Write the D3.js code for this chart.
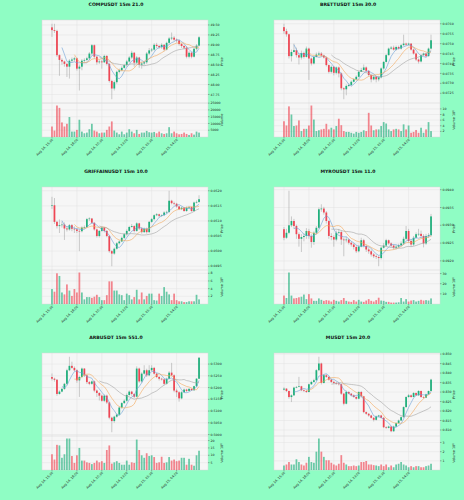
<!DOCTYPE html>
<html>
<head>
<meta charset="utf-8">
<script src="https://cdn.jsdelivr.net/npm/d3@7"></script>
<style>
  body { margin: 0; background: #8ffdc4; }
  svg { display: block; font-family: "DejaVu Sans", sans-serif; }
</style>
</head>
<body>
<svg class="grid-of-charts"></svg>
<script>
const width = 464, height = 500

// x tick labels, one every 10 candles (15m bars)
const tickIdx = [0, 10, 20, 30, 40, 50]
const tickLabels = ["Aug 14, 15:30", "Aug 14, 18:00", "Aug 14, 20:30", "Aug 14, 23:00", "Aug 15, 01:30", "Aug 15, 04:00"]
const mavs = [5, 10, 20]
const mavColors = ["#6a9fd6", "#f3a75a", "#a3a3a3"]

// COMPUSDT
const compOpen0 = 49.44
const compClose = [49.37,49.35,48.74,48.62,48.58,48.52,48.45,48.60,48.63,48.66,48.40,48.45,48.60,48.62,48.66,48.78,48.99,48.70,48.56,48.58,48.56,48.72,48.52,48.09,47.90,48.06,48.32,48.36,48.42,48.49,48.58,48.68,48.80,48.55,48.68,48.50,48.53,48.56,48.78,48.86,48.88,49.00,48.97,48.94,49.00,48.88,49.05,49.16,49.18,49.13,49.11,49.02,48.97,48.93,48.70,48.80,48.70,48.90,48.98,49.19]
const compHigh = [49.53,49.53,49.38,48.76,48.66,48.60,48.55,48.64,48.68,48.70,48.68,48.50,48.64,48.66,48.70,48.82,49.02,49.01,48.72,48.63,48.62,48.75,48.74,48.55,48.12,48.10,48.35,48.40,48.46,48.52,48.62,48.72,48.85,48.82,48.72,48.70,48.58,48.60,48.82,48.92,48.92,49.04,49.05,49.00,49.04,49.02,49.08,49.20,49.31,49.22,49.16,49.14,49.05,49.00,48.96,48.84,48.82,48.93,49.02,49.22]
const compLow = [49.20,49.30,48.70,48.22,48.50,48.45,48.19,48.15,48.55,48.58,48.35,47.85,48.36,48.55,48.58,48.62,48.74,48.65,48.50,48.52,48.40,48.54,48.48,48.05,47.63,47.85,48.02,48.28,48.33,48.40,48.45,48.55,48.64,48.45,48.52,48.42,48.40,48.48,48.52,48.74,48.82,48.85,48.92,48.90,48.90,48.84,48.86,49.02,49.12,49.10,49.06,48.98,48.92,48.88,48.66,48.66,48.66,48.68,48.86,48.96]
const compVolume = [7750,4750,23250,21500,10750,7750,9750,14750,4000,4000,5250,12750,4000,2750,3250,5750,9750,4750,4000,2750,3250,3250,5250,7750,11500,4750,3250,2000,4000,2000,3250,5750,4000,2750,5250,2250,3250,3250,4500,3500,3250,3750,2750,4000,2750,2250,2750,7250,2750,4000,2750,2000,2250,3250,2250,1500,2750,1750,4000,3250]
const compPriceTicks = [47.75, 48.00, 48.25, 48.50, 48.75, 49.00, 49.25, 49.50]
const compVolTicks = [5000, 10000, 15000, 20000, 25000]

// BRETTUSDT
const brettOpen0 = 0.07583
const brettClose = [0.07563,0.07547,0.07437,0.07458,0.07467,0.07442,0.07430,0.07453,0.07433,0.07475,0.07425,0.07400,0.07433,0.07445,0.07450,0.07440,0.07430,0.07392,0.07358,0.07383,0.07353,0.07380,0.07350,0.07275,0.07270,0.07287,0.07292,0.07308,0.07320,0.07333,0.07358,0.07367,0.07380,0.07363,0.07342,0.07320,0.07333,0.07320,0.07330,0.07375,0.07408,0.07442,0.07475,0.07480,0.07470,0.07483,0.07475,0.07492,0.07500,0.07495,0.07500,0.07470,0.07450,0.07420,0.07410,0.07442,0.07450,0.07437,0.07475,0.07517]
const brettHigh = [0.07600,0.07575,0.07550,0.07470,0.07500,0.07480,0.07450,0.07465,0.07460,0.07485,0.07480,0.07430,0.07440,0.07455,0.07460,0.07458,0.07445,0.07435,0.07395,0.07390,0.07388,0.07385,0.07385,0.07355,0.07280,0.07295,0.07300,0.07315,0.07325,0.07340,0.07362,0.07378,0.07395,0.07385,0.07366,0.07345,0.07340,0.07338,0.07338,0.07380,0.07412,0.07448,0.07480,0.07488,0.07490,0.07490,0.07490,0.07498,0.07545,0.07505,0.07505,0.07502,0.07475,0.07455,0.07425,0.07448,0.07455,0.07452,0.07480,0.07545]
const brettLow = [0.07550,0.07535,0.07425,0.07410,0.07455,0.07430,0.07395,0.07420,0.07425,0.07430,0.07317,0.07390,0.07395,0.07430,0.07440,0.07435,0.07425,0.07385,0.07350,0.07350,0.07340,0.07345,0.07330,0.07265,0.07220,0.07240,0.07282,0.07285,0.07305,0.07318,0.07330,0.07360,0.07365,0.07355,0.07335,0.07305,0.07315,0.07305,0.07310,0.07325,0.07370,0.07405,0.07440,0.07470,0.07465,0.07465,0.07470,0.07470,0.07490,0.07490,0.07492,0.07465,0.07445,0.07412,0.07400,0.07405,0.07438,0.07430,0.07435,0.07470]
const brettVolume = [5.6,4.1,10.9,8.0,3.9,4.1,5.9,2.1,2.9,2.9,4.1,11.2,6.2,2.1,2.4,2.7,2.9,4.7,2.7,3.3,2.7,3.9,6.5,4.2,2.1,1.8,1.8,1.5,1.2,1.8,1.5,1.8,2.4,2.1,8.6,4.1,2.4,2.7,2.7,3.9,5.3,4.8,2.7,2.1,2.7,2.9,2.7,2.1,4.5,2.7,4.1,1.5,1.8,2.5,1.5,3.3,1.5,2.7,5.3,2.1]
const brettPriceTicks = [0.0725, 0.0730, 0.0735, 0.0740, 0.0745, 0.0750, 0.0755, 0.0760]
const brettVolTicks = [2, 4, 6, 8, 10]

// GRIFFAINUSDT
const griffOpen0 = 0.05150
const griffClose = [0.05152,0.05097,0.05083,0.05086,0.05088,0.05075,0.05072,0.05086,0.05074,0.05072,0.05067,0.05066,0.05078,0.05080,0.05106,0.05108,0.05094,0.05072,0.05050,0.05067,0.05078,0.05067,0.05050,0.05000,0.04992,0.05008,0.05026,0.05032,0.05044,0.05056,0.05067,0.05080,0.05083,0.05067,0.05092,0.05075,0.05063,0.05074,0.05063,0.05097,0.05106,0.05119,0.05122,0.05117,0.05119,0.05128,0.05130,0.05167,0.05159,0.05157,0.05148,0.05139,0.05144,0.05133,0.05144,0.05146,0.05133,0.05161,0.05163,0.05172]
const griffHigh = [0.05180,0.05176,0.05100,0.05105,0.05098,0.05095,0.05082,0.05090,0.05090,0.05082,0.05076,0.05072,0.05082,0.05085,0.05110,0.05112,0.05110,0.05096,0.05075,0.05070,0.05082,0.05080,0.05070,0.05053,0.05004,0.05012,0.05030,0.05036,0.05048,0.05060,0.05072,0.05084,0.05090,0.05086,0.05096,0.05094,0.05080,0.05078,0.05078,0.05100,0.05110,0.05122,0.05126,0.05124,0.05122,0.05132,0.05134,0.05200,0.05170,0.05164,0.05160,0.05150,0.05148,0.05146,0.05148,0.05150,0.05148,0.05164,0.05168,0.05185]
const griffLow = [0.05140,0.05090,0.05075,0.05060,0.05078,0.05037,0.05065,0.05068,0.05066,0.05060,0.05060,0.05000,0.05062,0.05074,0.05076,0.05100,0.05090,0.05068,0.05045,0.05045,0.05064,0.05062,0.05046,0.04995,0.04950,0.04988,0.05005,0.05022,0.05030,0.05040,0.05052,0.05064,0.05078,0.05062,0.05064,0.05070,0.05058,0.05060,0.05058,0.05060,0.05094,0.05102,0.05116,0.05112,0.05114,0.05116,0.05124,0.05126,0.05155,0.05152,0.05144,0.05136,0.05136,0.05130,0.05130,0.05140,0.05130,0.05130,0.05158,0.05160]
const griffVolume = [3.9,3.2,8.0,7.3,3.0,2.5,5.1,3.5,2.1,3.9,3.0,8.2,3.0,1.2,1.8,1.8,1.6,1.9,2.4,1.8,1.0,1.0,2.3,5.9,5.9,3.5,3.5,2.5,2.3,1.0,2.7,2.3,1.2,1.8,3.7,1.2,3.0,1.2,2.1,2.7,2.7,1.0,0.9,2.7,2.1,4.4,3.2,2.5,1.0,2.7,1.0,0.7,0.7,0.5,0.5,0.7,0.7,0.7,2.4,1.2]
const griffPriceTicks = [0.0495, 0.0500, 0.0505, 0.0510, 0.0515, 0.0520]
const griffVolTicks = [2, 4, 6, 8]

// MYROUSDT
const myroOpen0 = 0.09289
const myroClose = [0.09265,0.09279,0.09300,0.09312,0.09298,0.09275,0.09262,0.09267,0.09270,0.09284,0.09270,0.09253,0.09279,0.09293,0.09345,0.09347,0.09336,0.09312,0.09270,0.09267,0.09260,0.09279,0.09281,0.09260,0.09258,0.09260,0.09251,0.09246,0.09239,0.09227,0.09240,0.09258,0.09242,0.09232,0.09227,0.09218,0.09213,0.09211,0.09208,0.09237,0.09243,0.09258,0.09249,0.09243,0.09237,0.09240,0.09244,0.09249,0.09262,0.09284,0.09256,0.09246,0.09265,0.09275,0.09276,0.09270,0.09249,0.09270,0.09272,0.09325]
const myroHigh = [0.09295,0.09290,0.09397,0.09325,0.09318,0.09302,0.09280,0.09275,0.09278,0.09292,0.09290,0.09275,0.09283,0.09298,0.09350,0.09359,0.09352,0.09340,0.09315,0.09278,0.09272,0.09285,0.09290,0.09285,0.09265,0.09268,0.09262,0.09255,0.09250,0.09244,0.09245,0.09265,0.09262,0.09246,0.09238,0.09232,0.09222,0.09218,0.09215,0.09240,0.09250,0.09262,0.09260,0.09252,0.09246,0.09245,0.09248,0.09255,0.09268,0.09298,0.09290,0.09262,0.09270,0.09280,0.09290,0.09285,0.09275,0.09276,0.09278,0.09332]
const myroLow = [0.09258,0.09262,0.09275,0.09295,0.09290,0.09262,0.09240,0.09225,0.09255,0.09262,0.09262,0.09237,0.09245,0.09275,0.09290,0.09338,0.09330,0.09305,0.09262,0.09258,0.09240,0.09255,0.09275,0.09245,0.09213,0.09252,0.09246,0.09240,0.09232,0.09222,0.09224,0.09238,0.09238,0.09225,0.09220,0.09212,0.09208,0.09205,0.09185,0.09204,0.09235,0.09240,0.09245,0.09238,0.09232,0.09232,0.09236,0.09240,0.09245,0.09258,0.09250,0.09240,0.09242,0.09262,0.09270,0.09264,0.09238,0.09245,0.09265,0.09268]
const myroVolume = [8.3,5.9,31,8.3,5.5,5.9,6.6,7.2,9.3,4.8,9.7,5.5,3.1,3.1,5.5,4.1,3.1,3.8,3.4,2.4,4.1,3.1,2.4,3.8,5.9,3.1,2.4,2.1,3.8,2.4,4.1,2.4,2.1,3.4,4.8,3.1,2.4,3.8,6.2,3.4,3.1,2.1,2.1,1.4,1.4,1.4,1.7,5.9,2.4,4.8,2.4,3.4,3.8,2.4,3.1,4.1,3.4,3.8,3.4,5.5]
const myroPriceTicks = [0.0920, 0.0925, 0.0930, 0.0935, 0.0940]
const myroVolTicks = [10, 20, 30]

// ARBUSDT
const arbOpen0 = 0.52448
const arbClose = [0.52376,0.52333,0.51728,0.51828,0.51944,0.52160,0.52736,0.52924,0.52837,0.52736,0.52304,0.52448,0.52808,0.52520,0.52232,0.52160,0.52261,0.51872,0.51771,0.51656,0.51439,0.51656,0.51367,0.50719,0.50575,0.50762,0.50849,0.51151,0.51339,0.51439,0.51684,0.51828,0.51728,0.51612,0.52808,0.52261,0.52592,0.52736,0.52520,0.52736,0.52837,0.52592,0.52448,0.52376,0.52347,0.52160,0.52376,0.52635,0.52520,0.51872,0.51800,0.51540,0.51800,0.51915,0.51858,0.51944,0.51886,0.52059,0.52376,0.53269]
const arbHigh = [0.52600,0.52420,0.52360,0.51880,0.51990,0.52200,0.52800,0.53310,0.53100,0.52900,0.52780,0.52500,0.52850,0.52830,0.52560,0.52280,0.52300,0.52300,0.51920,0.51800,0.51700,0.51700,0.51700,0.51400,0.50760,0.50800,0.50900,0.51200,0.51380,0.51500,0.51750,0.51880,0.51860,0.51760,0.52900,0.52850,0.52650,0.52950,0.52800,0.52950,0.52950,0.52880,0.52620,0.52500,0.52420,0.52380,0.52420,0.52700,0.53050,0.52560,0.51950,0.51850,0.51850,0.51960,0.51950,0.51980,0.51960,0.52080,0.52400,0.53300]
const arbLow = [0.52300,0.52250,0.51650,0.51700,0.51800,0.51900,0.52100,0.52700,0.52800,0.52700,0.52200,0.51600,0.52400,0.52450,0.52150,0.52100,0.52120,0.51800,0.51600,0.51450,0.51400,0.51380,0.51300,0.50650,0.50100,0.50500,0.50720,0.50820,0.51100,0.51300,0.51400,0.51650,0.51650,0.51550,0.51580,0.52200,0.52200,0.52550,0.52450,0.52480,0.52700,0.52550,0.52400,0.52300,0.52300,0.52100,0.52120,0.52350,0.52480,0.51800,0.51600,0.51400,0.51500,0.51780,0.51800,0.51840,0.51860,0.51860,0.52020,0.52360]
const arbVolume = [10.7,7.1,17.1,16.7,8.3,10.7,21.4,21.4,9.5,4.8,10.0,15.0,6.4,6.4,5.2,4.8,4.0,4.8,6.4,5.2,6.0,4.8,13.6,16.7,4.3,5.2,6.0,4.8,3.6,3.6,6.4,3.6,5.2,4.8,20.7,13.6,10.0,8.3,11.4,9.5,10.0,8.8,4.8,5.2,9.0,4.8,5.2,8.8,6.4,7.1,6.0,6.4,8.3,8.3,3.6,7.6,3.6,2.9,10.0,13.1]
const arbPriceTicks = [0.5000, 0.5050, 0.5100, 0.5150, 0.5200, 0.5250, 0.5300, 0.5350]
const arbVolTicks = [5, 10, 15, 20]

// MUSDT
const mOpen0 = 0.83127
const mClose = [0.83180,0.83056,0.82738,0.82827,0.83233,0.83268,0.83304,0.83092,0.83056,0.83003,0.83410,0.83533,0.83622,0.84152,0.84505,0.83480,0.83887,0.83798,0.83657,0.83533,0.83480,0.83445,0.83410,0.82915,0.82385,0.83003,0.82915,0.82827,0.82738,0.82650,0.83003,0.82774,0.81943,0.81855,0.81766,0.81643,0.81537,0.81714,0.81766,0.81643,0.81148,0.81113,0.81183,0.80936,0.81183,0.81360,0.81501,0.81678,0.82208,0.82738,0.82827,0.82738,0.82950,0.82827,0.83056,0.82738,0.82703,0.82880,0.83056,0.83657]
const mHigh = [0.83250,0.83200,0.83080,0.82880,0.83280,0.83320,0.83800,0.83330,0.83150,0.83100,0.83450,0.83600,0.83700,0.84200,0.84859,0.84550,0.83950,0.83950,0.83850,0.83700,0.83600,0.83550,0.83500,0.83450,0.82950,0.83080,0.83050,0.82950,0.82880,0.82780,0.83050,0.83060,0.82800,0.81980,0.81900,0.81800,0.81680,0.81760,0.81800,0.81800,0.81680,0.81200,0.81230,0.81200,0.81230,0.81400,0.81550,0.81720,0.82250,0.82780,0.82900,0.82880,0.83000,0.82980,0.83100,0.83080,0.82780,0.82920,0.83080,0.83700]
const mLow = [0.83080,0.83000,0.82650,0.82473,0.82800,0.83200,0.83250,0.83050,0.83000,0.82950,0.82980,0.83380,0.83500,0.83600,0.84100,0.83400,0.83450,0.83750,0.83600,0.83480,0.83420,0.83380,0.83350,0.82850,0.82300,0.82350,0.82880,0.82780,0.82700,0.82600,0.82620,0.82700,0.81880,0.81800,0.81700,0.81600,0.81450,0.81500,0.81680,0.81600,0.81100,0.81060,0.81080,0.80883,0.80900,0.81150,0.81330,0.81480,0.81650,0.82180,0.82700,0.82700,0.82720,0.82800,0.82800,0.82700,0.82650,0.82680,0.82850,0.83000]
const mVolume = [0.49,0.6,0.87,0.6,0.6,1.17,0.87,0.6,0.49,0.79,1.43,0.87,0.79,2.0,3.43,2.0,1.43,1.06,1.06,0.79,0.6,0.49,0.68,1.62,0.79,0.6,0.42,0.42,0.49,0.42,0.49,0.87,0.87,0.98,0.6,0.6,0.53,0.49,0.42,0.6,0.42,0.6,0.3,0.49,0.3,0.6,0.68,0.87,0.6,0.49,0.3,0.42,0.3,0.42,0.42,0.3,0.3,0.42,0.49,0.68]
const mPriceTicks = [0.810, 0.815, 0.820, 0.825, 0.830, 0.835, 0.840, 0.845, 0.850]
const mVolTicks = [1, 2, 3]

const charts = [
  { title: "COMPUSDT 15m 21.0", open0: compOpen0, close: compClose, high: compHigh, low: compLow, volume: compVolume, priceTicks: compPriceTicks, volTicks: compVolTicks, volExp: 0, fmt: ".2f" },
  { title: "BRETTUSDT 15m 30.0", open0: brettOpen0, close: brettClose, high: brettHigh, low: brettLow, volume: brettVolume, priceTicks: brettPriceTicks, volTicks: brettVolTicks, volExp: 6, fmt: ".4f" },
  { title: "GRIFFAINUSDT 15m 10.0", open0: griffOpen0, close: griffClose, high: griffHigh, low: griffLow, volume: griffVolume, priceTicks: griffPriceTicks, volTicks: griffVolTicks, volExp: 6, fmt: ".4f" },
  { title: "MYROUSDT 15m 11.0", open0: myroOpen0, close: myroClose, high: myroHigh, low: myroLow, volume: myroVolume, priceTicks: myroPriceTicks, volTicks: myroVolTicks, volExp: 6, fmt: ".4f" },
  { title: "ARBUSDT 15m 551.0", open0: arbOpen0, close: arbClose, high: arbHigh, low: arbLow, volume: arbVolume, priceTicks: arbPriceTicks, volTicks: arbVolTicks, volExp: 6, fmt: ".4f" },
  { title: "MUSDT 15m 20.0", open0: mOpen0, close: mClose, high: mHigh, low: mLow, volume: mVolume, priceTicks: mPriceTicks, volTicks: mVolTicks, volExp: 6, fmt: ".3f" }
]

const upColor = "#1fb07c", downColor = "#ef4654"
const rowTops = [20, 187, 353]
const priceH = 83, volH = 34
const plotLeft = 42, plotRight = 208

const svg = d3.select(".grid-of-charts")
  .attr("width", width)
  .attr("height", height)

svg.append("rect")
  .attr("width", width).attr("height", height)
  .attr("fill", "#8ffdc4")

charts.forEach((c, k) => drawChart(c, (k % 2) * 232, rowTops[Math.floor(k / 2)]))

function drawChart(chart, x0, top) {
  const candles = chart.close.map((cl, i) => ({
    i,
    open: i === 0 ? chart.open0 : chart.close[i - 1],
    close: cl,
    high: chart.high[i],
    low: chart.low[i],
    volume: chart.volume[i]
  }))

  const g = svg.append("g").attr("transform", `translate(${x0},0)`)

  const x = d3.scaleLinear().domain([-4, 62.6]).range([plotLeft, plotRight])
  const lo = d3.min(chart.low), hi = d3.max(chart.high)
  const pad = (hi - lo) * 0.05
  const y = d3.scaleLinear().domain([lo - pad, hi + pad]).range([top + priceH, top])
  const vy = d3.scaleLinear().domain([0, d3.max(chart.volume) * 1.08]).range([top + priceH + volH, top + priceH])

  // panels
  g.append("rect")
    .attr("x", plotLeft).attr("y", top)
    .attr("width", plotRight - plotLeft).attr("height", priceH + volH)
    .attr("fill", "#f6f6f6")

  const priceTicks = chart.priceTicks.filter(v => v >= y.domain()[0] && v <= y.domain()[1])

  // grid
  g.append("g").selectAll("line.h").data(priceTicks).enter().append("line")
    .attr("x1", plotLeft).attr("x2", plotRight)
    .attr("y1", d => y(d)).attr("y2", d => y(d))
    .attr("stroke", "#e2e2e2").attr("stroke-width", 0.5)
  g.append("g").selectAll("line.vh").data(chart.volTicks).enter().append("line")
    .attr("x1", plotLeft).attr("x2", plotRight)
    .attr("y1", d => vy(d)).attr("y2", d => vy(d))
    .attr("stroke", "#e2e2e2").attr("stroke-width", 0.5)
  g.append("g").selectAll("line.v").data(tickIdx).enter().append("line")
    .attr("x1", d => x(d)).attr("x2", d => x(d))
    .attr("y1", top).attr("y2", top + priceH + volH)
    .attr("stroke", "#e2e2e2").attr("stroke-width", 0.5)

  // frame + separator
  g.append("rect")
    .attr("x", plotLeft).attr("y", top)
    .attr("width", plotRight - plotLeft).attr("height", priceH + volH)
    .attr("fill", "none").attr("stroke", "#d8d8d8").attr("stroke-width", 0.5)
  g.append("line")
    .attr("x1", plotLeft).attr("x2", plotRight)
    .attr("y1", top + priceH).attr("y2", top + priceH)
    .attr("stroke", "#d0d0d0").attr("stroke-width", 0.5)

  const colorOf = d => d.close >= d.open ? upColor : downColor
  const bw = x(0.7) - x(0)

  // volume
  g.append("g").selectAll("rect").data(candles).enter().append("rect")
    .attr("x", d => x(d.i) - bw / 2)
    .attr("y", d => vy(d.volume))
    .attr("width", bw)
    .attr("height", d => vy(0) - vy(d.volume))
    .attr("fill", colorOf)
    .attr("opacity", 0.65)

  // wicks
  g.append("g").selectAll("line").data(candles).enter().append("line")
    .attr("x1", d => x(d.i)).attr("x2", d => x(d.i))
    .attr("y1", d => y(d.high)).attr("y2", d => y(d.low))
    .attr("stroke", "#9a9a9a").attr("stroke-width", 0.5)

  // bodies
  g.append("g").selectAll("rect").data(candles).enter().append("rect")
    .attr("x", d => x(d.i) - bw / 2)
    .attr("y", d => y(Math.max(d.open, d.close)))
    .attr("width", bw)
    .attr("height", d => Math.max(0.6, Math.abs(y(d.open) - y(d.close))))
    .attr("fill", colorOf)

  // moving averages
  mavs.forEach((n, m) => {
    const ma = candles.map((d, i) => i < n - 1 ? null : d3.mean(chart.close.slice(i - n + 1, i + 1)))
    const line = d3.line()
      .defined(d => d !== null)
      .x((d, i) => x(i))
      .y(d => y(d))
    g.append("path")
      .datum(ma)
      .attr("d", line)
      .attr("fill", "none")
      .attr("stroke", mavColors[m])
      .attr("stroke-width", 0.6)
  })

  // right axes
  const fmt = d3.format(chart.fmt)
  const pAxis = g.append("g").attr("font-size", 3.2).attr("fill", "#222")
  priceTicks.forEach(v => {
    pAxis.append("line").attr("x1", plotRight).attr("x2", plotRight + 1.5)
      .attr("y1", y(v)).attr("y2", y(v)).attr("stroke", "#444").attr("stroke-width", 0.4)
    pAxis.append("text").attr("x", plotRight + 2.5).attr("y", y(v) + 1.1).text(fmt(v))
  })
  chart.volTicks.forEach(v => {
    pAxis.append("line").attr("x1", plotRight).attr("x2", plotRight + 1.5)
      .attr("y1", vy(v)).attr("y2", vy(v)).attr("stroke", "#444").attr("stroke-width", 0.4)
    pAxis.append("text").attr("x", plotRight + 2.5).attr("y", vy(v) + 1.1).text(v)
  })

  g.append("text")
    .attr("transform", `translate(${plotRight + 15},${top + priceH / 2}) rotate(-90)`)
    .attr("text-anchor", "middle").attr("font-size", 3.4).attr("fill", "#222")
    .text("Price")

  const vLabel = g.append("text")
    .attr("transform", `translate(${plotRight + 15},${top + priceH + volH / 2}) rotate(-90)`)
    .attr("text-anchor", "middle").attr("font-size", 3.4).attr("fill", "#222")
    .text("Volume")
  if (chart.volExp) {
    vLabel.append("tspan").text("  10")
    vLabel.append("tspan").attr("dy", -1).attr("font-size", 2.4).text(chart.volExp)
  }

  // x labels
  const xb = top + priceH + volH
  tickIdx.forEach((t, j) => {
    g.append("line").attr("x1", x(t)).attr("x2", x(t))
      .attr("y1", xb).attr("y2", xb + 1.5).attr("stroke", "#444").attr("stroke-width", 0.4)
    g.append("text")
      .attr("transform", `translate(${x(t) + 1.5},${xb + 3}) rotate(-45)`)
      .attr("text-anchor", "end").attr("font-size", 3.2).attr("fill", "#222")
      .text(tickLabels[j])
  })

  // title
  g.append("text")
    .attr("x", 116).attr("y", top - 14)
    .attr("text-anchor", "middle")
    .attr("font-size", 4.6).attr("font-weight", "bold").attr("fill", "#111")
    .text(chart.title)
}
</script>
</body>
</html>
